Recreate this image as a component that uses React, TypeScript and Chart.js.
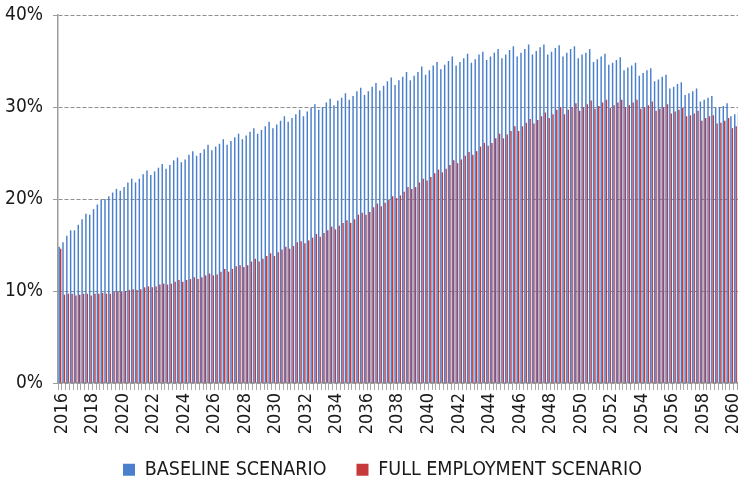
import React, { useEffect, useRef } from 'react';
import { Chart, registerables } from 'chart.js';

Chart.register(...registerables);

const years = [
  2016, 2017, 2018, 2019, 2020, 2021, 2022, 2023, 2024, 2025,
  2026, 2027, 2028, 2029, 2030, 2031, 2032, 2033, 2034, 2035,
  2036, 2037, 2038, 2039, 2040, 2041, 2042, 2043, 2044, 2045,
  2046, 2047, 2048, 2049, 2050, 2051, 2052, 2053, 2054, 2055,
  2056, 2057, 2058, 2059, 2060,
];
const quarters = ['Q1', 'Q2', 'Q3', 'Q4'];
const seriesNames = ['BASELINE SCENARIO', 'FULL EMPLOYMENT SCENARIO'];
const yTickValues = [0, 10, 20, 30, 40];

// percent, one row per year (Q1..Q4)
const baseline = [
  14.8, 15.3, 16.0, 16.6,
  16.6, 17.2, 17.8, 18.4,
  18.3, 18.9, 19.4, 19.9,
  20.0, 20.3, 20.7, 21.1,
  20.9, 21.3, 21.8, 22.2,
  21.8, 22.2, 22.7, 23.1,
  22.6, 23.0, 23.4, 23.8,
  23.3, 23.7, 24.2, 24.5,
  24.0, 24.3, 24.8, 25.2,
  24.7, 25.0, 25.4, 25.9,
  25.3, 25.7, 26.0, 26.5,
  25.9, 26.3, 26.7, 27.1,
  26.5, 26.9, 27.3, 27.7,
  27.1, 27.5, 27.9, 28.4,
  27.7, 28.1, 28.5, 29.0,
  28.4, 28.8, 29.2, 29.7,
  29.0, 29.5, 29.9, 30.3,
  29.7, 30.0, 30.5, 30.9,
  30.2, 30.7, 31.0, 31.5,
  30.8, 31.2, 31.7, 32.1,
  31.3, 31.7, 32.2, 32.6,
  31.8, 32.3, 32.8, 33.2,
  32.4, 32.9, 33.3, 33.8,
  32.9, 33.4, 33.8, 34.4,
  33.5, 34.0, 34.5, 34.9,
  34.1, 34.6, 35.0, 35.5,
  34.5, 34.9, 35.3, 35.8,
  34.8, 35.2, 35.7, 36.0,
  35.1, 35.5, 35.9, 36.3,
  35.3, 35.7, 36.2, 36.6,
  35.5, 35.9, 36.3, 36.8,
  35.7, 36.1, 36.5, 36.8,
  35.7, 36.0, 36.4, 36.7,
  35.5, 35.9, 36.3, 36.6,
  35.3, 35.7, 35.9, 36.3,
  34.9, 35.2, 35.5, 35.8,
  34.6, 34.8, 35.1, 35.4,
  34.0, 34.3, 34.5, 34.8,
  33.4, 33.7, 34.0, 34.2,
  32.8, 33.0, 33.3, 33.5,
  32.0, 32.2, 32.5, 32.7,
  31.3, 31.5, 31.7, 32.0,
  30.6, 30.8, 31.0, 31.2,
  29.9, 30.0, 30.1, 30.4,
  29.0, 29.2, 29.4, 29.6,
];

const fullEmployment = [
  14.6, 9.6, 9.7, 9.7,
  9.5, 9.6, 9.7, 9.7,
  9.5, 9.7, 9.7, 9.8,
  9.7, 9.7, 9.9, 10.0,
  9.9, 10.0, 10.1, 10.2,
  10.1, 10.2, 10.4, 10.5,
  10.4, 10.5, 10.7, 10.8,
  10.7, 10.8, 11.0, 11.2,
  11.0, 11.2, 11.3, 11.5,
  11.3, 11.5, 11.7, 11.9,
  11.7, 11.8, 12.1, 12.4,
  12.1, 12.4, 12.7, 12.8,
  12.6, 12.8, 13.2, 13.5,
  13.2, 13.5, 13.8, 14.1,
  13.8, 14.2, 14.5, 14.8,
  14.6, 14.9, 15.3, 15.4,
  15.2, 15.5, 15.8, 16.2,
  15.9, 16.3, 16.6, 17.0,
  16.7, 17.1, 17.4, 17.7,
  17.4, 17.8, 18.3, 18.5,
  18.3, 18.6, 19.1, 19.5,
  19.2, 19.6, 19.9, 20.3,
  20.1, 20.4, 20.8, 21.3,
  21.1, 21.3, 21.8, 22.2,
  22.0, 22.4, 22.8, 23.2,
  22.9, 23.3, 23.7, 24.2,
  23.9, 24.3, 24.7, 25.1,
  24.8, 25.2, 25.7, 26.1,
  25.8, 26.1, 26.6, 27.1,
  26.6, 27.0, 27.4, 27.9,
  27.4, 27.9, 28.3, 28.7,
  28.2, 28.6, 29.0, 29.4,
  28.8, 29.2, 29.7, 30.0,
  29.2, 29.7, 30.0, 30.4,
  29.6, 30.0, 30.3, 30.7,
  29.8, 30.1, 30.5, 30.8,
  29.9, 30.2, 30.5, 30.8,
  30.0, 30.2, 30.5, 30.8,
  29.8, 30.0, 30.2, 30.6,
  29.6, 29.8, 30.0, 30.3,
  29.3, 29.5, 29.7, 29.9,
  29.0, 29.1, 29.3, 29.6,
  28.5, 28.8, 29.0, 29.1,
  28.2, 28.3, 28.5, 28.8,
  27.7, 27.9, 28.1, 28.3,
];

const FONT = '"Liberation Sans Narrow", "DejaVu Sans Condensed", "Arial Narrow", "Liberation Sans", sans-serif';
const TEXT = '#1a1a1a';
const AXIS = '#9d9d9d';
const X_LABEL_SIZE = 18;

// vertical year labels (every second year) placed through the x scale
const yearLabelPlugin = {
  id: 'yearLabels',
  afterDraw(chart: any) {
    const xs = chart.scales.x;
    const ctx = chart.ctx as CanvasRenderingContext2D;
    ctx.save();
    ctx.font = `${X_LABEL_SIZE}px ${FONT}`;
    ctx.fillStyle = TEXT;
    ctx.textAlign = 'right';
    ctx.textBaseline = 'middle';
    years.forEach((yr, k) => {
      if (k % 2 !== 0) return;
      const px = xs.getPixelForValue(k * quarters.length) + 2;
      ctx.save();
      ctx.translate(px, xs.top + 10);
      ctx.rotate(-Math.PI / 2);
      ctx.fillText(String(yr), 0, 0);
      ctx.restore();
    });
    ctx.restore();
  },
};

export default function App() {
  const ref = useRef<HTMLCanvasElement | null>(null);

  useEffect(() => {
    if (!ref.current) return;
    const labels = years.flatMap((y) => quarters.map((q) => `${y} ${q}`));
    const chart = new Chart(ref.current, {
      type: 'bar',
      data: {
        labels,
        datasets: [
          {
            label: seriesNames[0],
            data: baseline,
            backgroundColor: '#4a7fcb',
            borderWidth: 0,
            categoryPercentage: 0.76,
            barPercentage: 1.0,
          },
          {
            label: seriesNames[1],
            data: fullEmployment,
            backgroundColor: '#c73a3c',
            borderWidth: 0,
            categoryPercentage: 0.76,
            barPercentage: 1.0,
          },
        ],
      },
      plugins: [yearLabelPlugin],
      options: {
        responsive: false,
        animation: false,
        devicePixelRatio: 1,
        layout: { padding: { top: 15, left: 0, right: 0, bottom: 0 } },
        plugins: {
          legend: {
            position: 'bottom',
            maxHeight: 55,
            labels: {
              boxWidth: 12,
              boxHeight: 12,
              padding: 30,
              color: TEXT,
              font: { family: FONT, size: 19.5 },
            },
          },
          tooltip: { enabled: false },
        },
        scales: {
          x: {
            grid: {
              display: true,
              drawOnChartArea: false,
              drawTicks: true,
              tickLength: 7,
              color: '#a8a8a8',
              lineWidth: 1,
              offset: true,
            },
            border: { display: true, color: AXIS, width: 1.5 },
            ticks: {
              autoSkip: false,
              padding: 0,
              color: TEXT,
              font: { family: FONT, size: 10 },
              callback: () => '',
            },
            afterFit: (s: any) => {
              s.height = 47;
            },
          },
          y: {
            min: yTickValues[0],
            max: yTickValues[yTickValues.length - 1],
            ticks: {
              stepSize: 10,
              padding: 10,
              color: TEXT,
              font: { family: FONT, size: 19 },
              callback: (v: any) => `${v}%`,
            },
            grid: {
              color: '#8f8f8f',
              lineWidth: 1,
              tickLength: 5,
              tickColor: AXIS,
              tickBorderDash: [],
            },
            border: { display: true, color: AXIS, width: 1.5, dash: [4, 2] },
            afterFit: (s: any) => {
              s.width = 58;
              s.paddingTop = 0;
              s.paddingBottom = 0;
            },
          },
          // empty right-hand spacer so the plot stops short of the canvas edge
          ySpacer: {
            type: 'linear',
            position: 'right',
            display: true,
            min: yTickValues[0],
            max: yTickValues[yTickValues.length - 1],
            grid: { display: false, drawTicks: false },
            border: { display: false },
            ticks: { display: false },
            afterFit: (s: any) => {
              s.width = 20;
              s.paddingTop = 0;
              s.paddingBottom = 0;
            },
          },
        },
      },
    } as any);
    return () => chart.destroy();
  }, []);

  return (
    <div
      style={{
        position: 'fixed',
        left: 0,
        top: 0,
        width: 738,
        height: 485,
        overflow: 'hidden',
        background: '#ffffff',
      }}
    >
      <canvas ref={ref} width={765} height={485} style={{ width: 765, height: 485, display: 'block' }} />
    </div>
  );
}
